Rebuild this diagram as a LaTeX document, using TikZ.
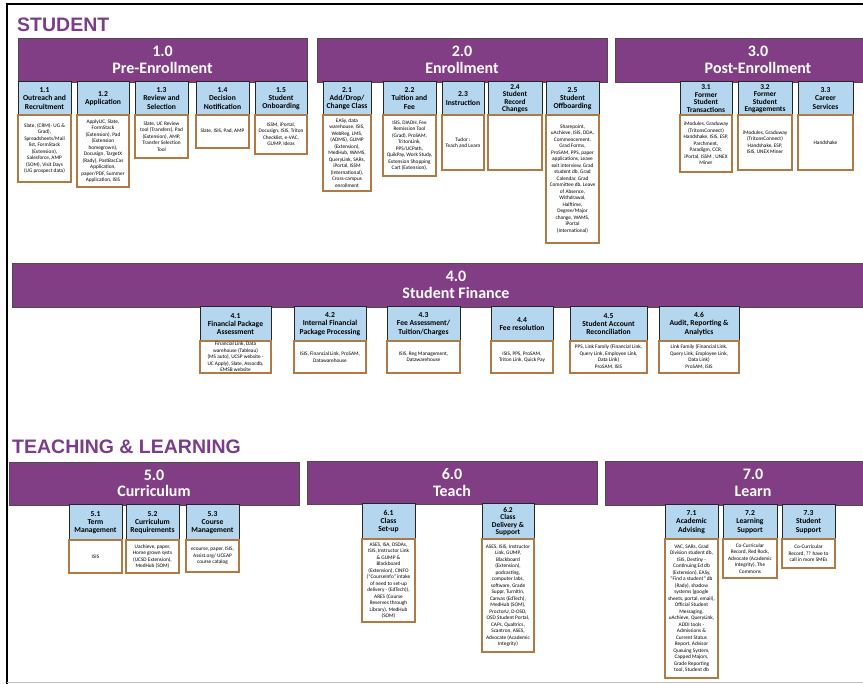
\documentclass[tikz,border=0pt]{standalone}
\usepackage{fontspec}
\setmainfont{Carlito}
\newfontfamily\areafont{Liberation Sans}
\usepackage{tikz}
\usetikzlibrary{positioning}
\definecolor{phasefill}{RGB}{130,62,132}
\definecolor{areapurple}{RGB}{124,60,140}
\definecolor{capblue}{RGB}{180,214,238}
\definecolor{toolrim}{RGB}{176,122,68}

\begin{document}
\begin{tikzpicture}[x=1pt, y=-1pt,
	area/.style={text=areapurple, font=\areafont\bfseries\fontsize{19.5}{22}\selectfont, anchor=west, inner sep=0pt},
	phase/.style={draw=black!70, line width=0.8pt, fill=phasefill, text=white, font=\bfseries\fontsize{16}{16.5}\selectfont, align=center, anchor=north west, minimum width=#1, minimum height=44pt, inner sep=0pt, outer sep=0pt},
	cap/.style={draw=black!85, line width=1pt, fill=capblue, font=\bfseries\fontsize{7.6}{8.3}\selectfont, align=center, anchor=north west, minimum width=#1, minimum height=33pt, inner sep=0.5pt, outer sep=0pt},
	tight/.style={font=\bfseries\fontsize{7.4}{7.5}\selectfont},
	tools/.style={draw=toolrim, line width=1.3pt, fill=white, font=\fontsize{5.3}{6.5}\selectfont, align=center, anchor=north, minimum width=#1, inner sep=0.5pt, outer sep=0pt}]
			\clip (0,0) rectangle (863,684);
			\fill[white] (0,0) rectangle (863,684);
			\draw[line width=1.5pt] (7,684) -- (7,4) -- (863,4);
			\draw[black!25, line width=1pt] (7,682) -- (863,682);

			\node[area] (Stu) at (17,25) {STUDENT};
			\node[area] (TaL) at (12,447) {TEACHING \& LEARNING};

			\node[phase=289pt] (Pre) at (18,38) {1.0\\Pre-Enrollment};
			\node[phase=290pt] (Enr) at (317,38) {2.0\\Enrollment};
			\node[phase=286pt] (Post) at (615,38) {3.0\\Post-Enrollment};
			\node[phase=888pt] (Fin) at (12,263) {4.0\\Student Finance};
			\node[phase=290pt, minimum height=43pt] (Cur) at (9,462) {5.0\\Curriculum};
			\node[phase=290pt, minimum height=43pt] (Tea) at (307,461) {6.0\\Teach};
			\node[phase=296pt] (Lea) at (605,461) {7.0\\Learn};

			\node[cap=53pt] (c11) at (18,82) {1.1\\Outreach and\\Recruitment};
			\node[tools=53pt, minimum height=67pt, below=0pt of c11] (t11) {Slate, (CRM)- UG \&\\Grad),\\Spreadsheets/Mail\\list, FormStack\\(Extension),\\Salesforce, AMP\\(SOM), Visit Days\\(UG prospect data)};
			\node[cap=52pt] (c12) at (77,82) {1.2\\Application};
			\node[tools=52pt, minimum height=72pt, below=0pt of c12] (t12) {ApplyUC, Slate,\\FormStack\\(Extension), Pad\\(Extension\\homegrown),\\Docusign, TargetX\\(Rady), PostBacCas\\Application,\\paper/PDF, Summer\\Application, ISIS};
			\node[cap=53pt] (c13) at (135,82) {1.3\\Review and\\Selection};
			\node[tools=53pt, minimum height=43pt, below=0pt of c13] (t13) {Slate, UC Review\\tool (Transfers), Pad\\(Extension), AMP,\\Transfer Selection\\Tool};
			\node[cap=53pt] (c14) at (196,82) {1.4\\Decision\\Notification};
			\node[tools=53pt, minimum height=33pt, below=0pt of c14] (t14) {Slate, ISIS, Pad, AMP};
			\node[cap=52pt] (c15) at (255,82) {1.5\\Student\\Onboarding};
			\node[tools=52pt, minimum height=39pt, below=0pt of c15] (t15) {ISSM, iPortal,\\Docusign, ISIS, Triton\\Checklist, e-VAC,\\GUMP, Ideas};

			\node[cap=48pt] (c21) at (323,82) {2.1\\Add/Drop/\\Change Class};
			\node[tools=48pt, minimum height=76pt, below=0pt of c21] (t21) {EASy, data\\warehouse, ISIS,\\WebReg, LMS,\\(ADMS), GUMP\\(Extension),\\MedHub, WAMS,\\QueryLink, SARs,\\iPortal, ISSM\\(International),\\Cross-campus\\enrollment};
			\node[cap=53pt] (c22) at (383,82) {2.2\\Tuition and\\Fee};
			\node[tools=53pt, minimum height=61pt, below=0pt of c22] (t22) {ISIS, DIADH, Fee\\Remission Tool\\(Grad), ProSAM,\\TritonLink,\\PPS/UCPath,\\QuikPay, Work Study,\\Extension Shopping\\Cart (Extension),};
			\node[cap=42pt] (c23) at (442,82) {2.3\\Instruction};
			\node[tools=42pt, minimum height=55pt, below=0pt of c23] (t23) {Tudor :\\Teach and Learn};
			\node[cap=54pt, tight] (c24) at (488,82) {2.4\\Student\\Record\\Changes};
			\node[tools=54pt, minimum height=55pt, below=0pt of c24] (t24) {};
			\node[cap=53pt] (c25) at (546,82) {2.5\\Student\\Offboarding};
			\node[tools=53pt, minimum height=128pt, below=0pt of c25] (t25) {Sharepoint,\\uAchieve, ISIS, DDA,\\Commencement,\\Grad Forms,\\ProSAM, PPS, paper\\applications, Leave\\exit interview, Grad\\student db, Grad\\Calendar, Grad\\Committee db, Leave\\of Absence,\\Withdrawal,\\Halftime,\\Degree/Major\\change, WAMS,\\iPortal\\(International)};

			\node[cap=52pt, tight] (c31) at (680,82) {3.1\\Former\\Student\\Transactions};
			\node[tools=52pt, minimum height=57pt, below=0pt of c31] (t31) {iModules, Graduway\\(TritonsConnect)\\Handshake, ISIS, ESP,\\Parchment,\\Paradigm, CCR,\\iPortal, ISSM , UNEX\\Miner};
			\node[cap=54pt, tight] (c32) at (738,82) {3.2\\Former\\Student\\Engagements};
			\node[tools=54pt, minimum height=55pt, below=0pt of c32] (t32) {iModules, Graduway\\(TritonsConnect)\\Handshake, ESP,\\ISIS, UNEX Miner};
			\node[cap=55pt] (c33) at (798,82) {3.3\\Career\\Services};
			\node[tools=55pt, minimum height=55pt, below=0pt of c33] (t33) {Handshake};

			\node[cap=71pt, minimum height=34pt] (c41) at (200,307) {4.1\\Financial Package\\Assessment};
			\node[tools=71pt, minimum height=32pt, below=0pt of c41] (t41) {Financial Link, Data\\warehouse (Tableau)\\(MS auto), UCSP website -\\UC Apply), Slate, Assocdb,\\EMSB website};
			\node[cap=72pt, minimum height=34pt] (c42) at (294,307) {4.2\\Internal Financial\\Package Processing};
			\node[tools=72pt, minimum height=32pt, below=0pt of c42] (t42) {ISIS, Financial Link, ProSAM,\\Datawarehouse};
			\node[cap=73pt, minimum height=34pt] (c43) at (387,307) {4.3\\Fee Assessment/\\Tuition/Charges};
			\node[tools=73pt, minimum height=32pt, below=0pt of c43] (t43) {ISIS, Reg Management,\\Datawarehouse};
			\node[cap=62pt, minimum height=34pt] (c44) at (491,307) {4.4\\Fee resolution};
			\node[tools=62pt, minimum height=32pt, below=0pt of c44] (t44) {ISIS, PPS, ProSAM,\\Triton Link, Quick Pay};
			\node[cap=77pt, minimum height=34pt] (c45) at (570,307) {4.5\\Student Account\\Reconciliation};
			\node[tools=77pt, minimum height=32pt, below=0pt of c45] (t45) {PPS, Link Family (Financial Link,\\Query Link, Employee Link,\\Data Link)\\ProSAM, ISIS};
			\node[cap=80pt, minimum height=34pt] (c46) at (659,307) {4.6\\Audit, Reporting \&\\Analytics};
			\node[tools=80pt, minimum height=32pt, below=0pt of c46] (t46) {Link Family (Financial Link,\\Query Link, Employee Link,\\Data Link)\\ProSAM, ISIS};

			\node[cap=53pt, minimum height=35pt] (c51) at (69,505) {5.1\\Term\\Management};
			\node[tools=53pt, minimum height=33pt, below=0pt of c51] (t51) {ISIS};
			\node[cap=53pt, minimum height=35pt] (c52) at (126,505) {5.2\\Curriculum\\Requirements};
			\node[tools=53pt, minimum height=33pt, below=0pt of c52] (t52) {Uachieve, paper,\\Home grown systs\\(UCSD Extension),\\MedHub (SOM)};
			\node[cap=53pt, minimum height=35pt] (c53) at (186,505) {5.3\\Course\\Management};
			\node[tools=53pt, minimum height=32pt, below=0pt of c53] (t53) {ecourse, paper, ISIS,\\Assist.org/ UCEAP\\course catalog};

			\node[cap=53pt, minimum height=35pt] (c61) at (362,504) {6.1\\Class\\Set-up};
			\node[tools=53pt, minimum height=83pt, below=0pt of c61] (t61) {ASES, ISA, DSDAs,\\ISIS, Instructor Link\\\& GUMP \&\\Blackboard\\(Extension), CINFO\\(``CourseInfo'' intake\\of need to set-up\\delivery - (EdTech)),\\ARES (Course\\Reserves through\\Library), MedHub\\(SOM)};
			\node[cap=52pt, minimum height=35pt, tight] (c62) at (482,504) {6.2\\Class\\Delivery \&\\Support};
			\node[tools=52pt, minimum height=113pt, below=0pt of c62] (t62) {ASES, ISIS, Instructor\\Link, GUMP,\\Blackboard\\(Extension),\\podcasting,\\computer labs,\\software, Grade\\Suppr, TurnItIn,\\Canvas (EdTech),\\MedHub (SOM),\\ProctorU, D-OSD,\\OSD Student Portal,\\CAPs, Qualtrics,\\Scantron, ASES,\\Advocate (Academic\\Integrity)};

			\node[cap=53pt, minimum height=34pt] (c71) at (665,505) {7.1\\Academic\\Advising};
			\node[tools=53pt, minimum height=139pt, below=0pt of c71] (t71) {VAC, SARs, Grad\\Division student db,\\ISIS, Destiny -\\Continuing Ed db\\(Extension), EASy,\\``Find a student'' db\\(Rady), shadow\\systems (google\\sheets, portal, email),\\Official Student\\Messaging,\\uAchieve, QueryLink,\\ADDI tools -\\Admissions \&\\Current Status\\Report, Advisor\\Queuing System,\\Capped Majors,\\Grade Reporting\\tool, Student db};
			\node[cap=54pt, minimum height=34pt] (c72) at (723,505) {7.2\\Learning\\Support};
			\node[tools=54pt, minimum height=39pt, below=0pt of c72] (t72) {Co-Curricular\\Record, Red Rock,\\Advocate (Academic\\Integrity), The\\Commons};
			\node[cap=53pt, minimum height=34pt] (c73) at (782,505) {7.3\\Student\\Support};
			\node[tools=53pt, minimum height=29pt, below=0pt of c73] (t73) {Co-Curricular\\Record, ?? have to\\call in more SMEs};
		\end{tikzpicture}
\end{document}
